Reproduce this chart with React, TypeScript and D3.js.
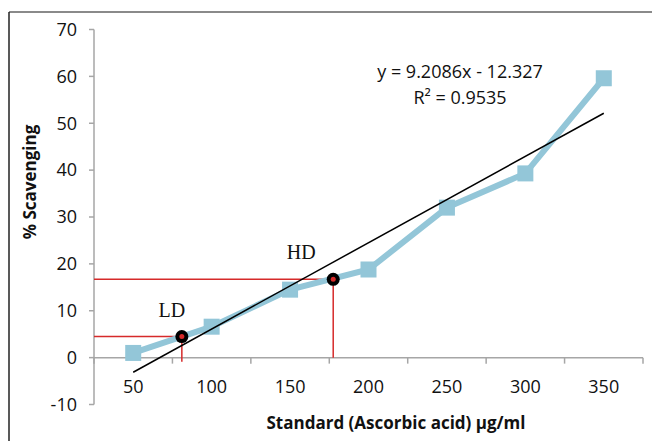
import React from "react";
import * as d3 from "d3";

const categories = [50, 100, 150, 200, 250, 300, 350];
const scavenging = [1.0, 6.6, 14.5, 18.8, 32.0, 39.3, 59.6];
const yTicks = [-10, 0, 10, 20, 30, 40, 50, 60, 70];
const trendSlope = 9.2086;
const trendIntercept = -12.327;
const doseMarkers = [
  { label: "LD", conc: 81, value: 4.5 },
  { label: "HD", conc: 177.5, value: 16.7 },
];

const W = 652;
const H = 441;
const FONT = "'Open Sans', sans-serif";

export default function App() {
  const x = d3.scaleLinear().domain([25, 375]).range([94, 643]);
  const y = d3.scaleLinear().domain([-10, 70]).range([404.5, 29.5]);
  const step = x(100) - x(50);
  const boundaries = d3.range(categories.length + 1).map((i) => x(25) + i * step);

  const line = d3
    .line<number>()
    .x((_, i) => x(categories[i]))
    .y((d) => y(d));

  const trendY = (c: number) => trendSlope * (c / 50) + trendIntercept;
  const trendLine = d3
    .line<number>()
    .x((c) => x(c))
    .y((c) => y(trendY(c)));

  const axisColor = "#a6a6a6";
  const red = "#d62a2a";
  const blue = "#93c6d8";

  return (
    <svg
      width={W}
      height={H}
      style={{ position: "absolute", left: 0, top: 0, background: "#fff" }}
    >
      {/* frame */}
      <line x1={9} x2={W} y1={12} y2={12} stroke="#8a8a8a" strokeWidth={2} />
      <line x1={9} x2={9} y1={12} y2={H} stroke="#222" strokeWidth={1.5} />

      {/* y axis */}
      <line x1={x(25)} x2={x(25)} y1={y(70)} y2={y(-10)} stroke={axisColor} strokeWidth={1.5} />
      {yTicks.map((t) => (
        <g key={t}>
          <line x1={x(25) - 5} x2={x(25)} y1={y(t)} y2={y(t)} stroke={axisColor} strokeWidth={1.5} />
          <text
            x={77}
            y={y(t)}
            dy="0.35em"
            textAnchor="end"
            fontFamily={FONT}
            fontSize={18}
            fill="#111"
          >
            {t}
          </text>
        </g>
      ))}

      {/* x axis */}
      <line x1={x(25)} x2={x(375)} y1={y(0)} y2={y(0)} stroke={axisColor} strokeWidth={1.5} />
      {boundaries.map((b, i) => (
        <line key={i} x1={b} x2={b} y1={y(0)} y2={y(0) + 6} stroke={axisColor} strokeWidth={1.5} />
      ))}
      {categories.map((c) => (
        <text
          key={c}
          x={x(c)}
          y={387}
          dy="0.35em"
          textAnchor="middle"
          fontFamily={FONT}
          fontSize={18}
          fill="#111"
        >
          {c}
        </text>
      ))}

      {/* red guide lines */}
      {doseMarkers.map((m) => (
        <g key={m.label}>
          <line x1={x(25)} x2={x(m.conc)} y1={y(m.value)} y2={y(m.value)} stroke={red} strokeWidth={1.5} />
          <line
            x1={x(m.conc)}
            x2={x(m.conc)}
            y1={y(m.value)}
            y2={m.label === "LD" ? y(0) + 4 : y(0)}
            stroke={red}
            strokeWidth={1.5}
          />
        </g>
      ))}

      {/* series */}
      <path d={line(scavenging) || ""} fill="none" stroke={blue} strokeWidth={6} />
      {scavenging.map((v, i) => (
        <rect
          key={i}
          x={x(categories[i]) - 8}
          y={y(v) - 8}
          width={16}
          height={16}
          fill={blue}
        />
      ))}

      {/* trendline */}
      <path d={trendLine([50, 350]) || ""} fill="none" stroke="#000" strokeWidth={1.5} />

      {/* LD / HD points */}
      {doseMarkers.map((m) => (
        <g key={m.label}>
          <circle cx={x(m.conc)} cy={y(m.value)} r={6.5} fill="#000" />
          <circle cx={x(m.conc)} cy={y(m.value)} r={2.5} fill={red} />
          <text
            x={x(m.conc) - (m.label === "LD" ? 10 : 32)}
            y={y(m.value) - (m.label === "LD" ? 20 : 20)}
            textAnchor="middle"
            fontFamily="'Liberation Serif', serif"
            fontSize={20}
            fill="#111"
          >
            {m.label}
          </text>
        </g>
      ))}

      {/* equation */}
      <text x={460} y={72} dy="0.35em" textAnchor="middle" fontFamily={FONT} fontSize={18} fill="#111">
        y = 9.2086x - 12.327
      </text>
      <text x={460} y={98} dy="0.35em" textAnchor="middle" fontFamily={FONT} fontSize={18} fill="#111">
        R² = 0.9535
      </text>

      {/* axis titles */}
      <text
        x={396}
        y={423}
        dy="0.35em"
        textAnchor="middle"
        fontFamily={FONT}
        fontWeight="bold"
        fontSize={17}
        fill="#111"
      >
        Standard (Ascorbic acid) μg/ml
      </text>
      <text
        transform="translate(30,182) rotate(-90)"
        dy="0.35em"
        textAnchor="middle"
        fontFamily={FONT}
        fontWeight="bold"
        fontSize={17}
        fill="#111"
      >
        % Scavenging
      </text>
    </svg>
  );
}
